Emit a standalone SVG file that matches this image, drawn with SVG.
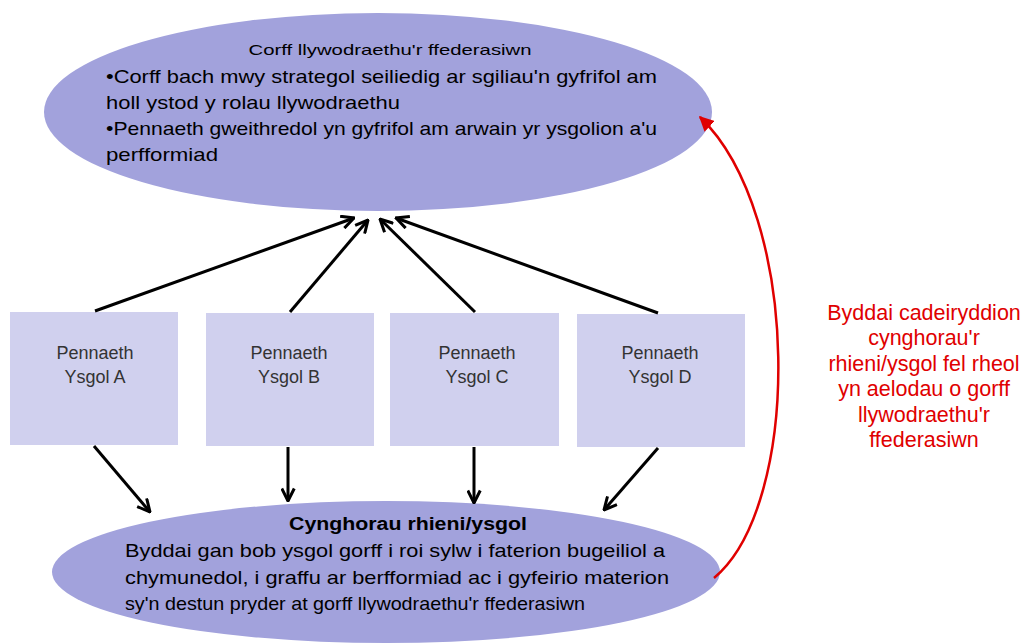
<svg xmlns="http://www.w3.org/2000/svg" width="1027" height="644" viewBox="0 0 1027 644">
<style>
.ell{fill:#a2a2dc;}
.box{fill:#d0d0ee;}
.bt{font-family:"Liberation Sans",Arial,sans-serif;font-size:18px;fill:#333;text-anchor:middle;}
.et{font-family:"Liberation Sans",Arial,sans-serif;font-size:19px;fill:#000;}
.red{font-family:"Liberation Sans",Arial,sans-serif;font-size:21.5px;fill:#e00000;text-anchor:middle;}
.arr{stroke:#000;stroke-width:3;fill:none;marker-end:url(#ah);}
</style>
<defs>
<marker id="ah" viewBox="0 0 12 12" refX="11" refY="6" markerWidth="5" markerHeight="5" orient="auto" markerUnits="strokeWidth">
<polyline points="1,1 11,6 1,11" fill="none" stroke="#000" stroke-width="2.4"/>
</marker>
<marker id="rh" viewBox="0 0 10 10" refX="9" refY="5" markerWidth="6" markerHeight="6" orient="auto" markerUnits="strokeWidth">
<path d="M0,0 L10,5 L0,10 z" fill="#e00000"/>
</marker>
</defs>
<rect width="1027" height="644" fill="#fff"/>
<g id="top-body">
<ellipse class="ell" cx="378" cy="112" rx="334" ry="99"/>
<text x="390" y="55" font-family="Liberation Sans,Arial,sans-serif" font-size="15" text-anchor="middle" textLength="283" lengthAdjust="spacingAndGlyphs">Corff llywodraethu'r ffederasiwn</text>
<text class="et" x="106" y="83" textLength="551" lengthAdjust="spacingAndGlyphs">•Corff bach mwy strategol seiliedig ar sgiliau'n gyfrifol am</text>
<text class="et" x="106" y="109" textLength="294" lengthAdjust="spacingAndGlyphs">holl ystod y rolau llywodraethu</text>
<text class="et" x="106" y="135" textLength="551" lengthAdjust="spacingAndGlyphs">•Pennaeth gweithredol yn gyfrifol am arwain yr ysgolion a'u</text>
<text class="et" x="106" y="161" textLength="112" lengthAdjust="spacingAndGlyphs">perfformiad</text>
</g>
<g id="bottom-body">
<ellipse class="ell" cx="386" cy="572" rx="334" ry="71"/>
<text x="408" y="530" font-family="Liberation Sans,Arial,sans-serif" font-size="18" font-weight="bold" text-anchor="middle" textLength="238" lengthAdjust="spacingAndGlyphs">Cynghorau rhieni/ysgol</text>
<text class="et" x="125" y="557" textLength="540" lengthAdjust="spacingAndGlyphs">Byddai gan bob ysgol gorff i roi sylw i faterion bugeiliol a</text>
<text class="et" x="125" y="584" textLength="544" lengthAdjust="spacingAndGlyphs">chymunedol, i graffu ar berfformiad ac i gyfeirio materion</text>
<text class="et" x="125" y="610" textLength="460" lengthAdjust="spacingAndGlyphs">sy'n destun pryder at gorff llywodraethu'r ffederasiwn</text>
</g>
<g id="head-a">
<rect class="box" x="10" y="312" width="168" height="133"/>
<text class="bt" x="95" y="359">Pennaeth</text>
<text class="bt" x="95" y="383">Ysgol A</text>
</g>
<g id="head-b">
<rect class="box" x="206" y="313" width="168" height="133"/>
<text class="bt" x="289" y="359">Pennaeth</text>
<text class="bt" x="289" y="383">Ysgol B</text>
</g>
<g id="head-c">
<rect class="box" x="390" y="313" width="169" height="133"/>
<text class="bt" x="477" y="359">Pennaeth</text>
<text class="bt" x="477" y="383">Ysgol C</text>
</g>
<g id="head-d">
<rect class="box" x="577" y="314" width="168" height="133"/>
<text class="bt" x="660" y="359">Pennaeth</text>
<text class="bt" x="660" y="383">Ysgol D</text>
</g>
<g id="note">
<text class="red" x="924" y="320">Byddai cadeiryddion</text>
<text class="red" x="924" y="345">cynghorau'r</text>
<text class="red" x="924" y="371">rhieni/ysgol fel rheol</text>
<text class="red" x="924" y="396">yn aelodau o gorff</text>
<text class="red" x="924" y="422">llywodraethu'r</text>
<text class="red" x="924" y="447">ffederasiwn</text>
</g>
<g id="connectors">
<line class="arr" x1="95" y1="311" x2="354" y2="218"/>
<line class="arr" x1="290" y1="312" x2="368" y2="220"/>
<line class="arr" x1="475" y1="312" x2="380" y2="219"/>
<line class="arr" x1="658" y1="313" x2="396" y2="218"/>
<line class="arr" x1="94" y1="446" x2="150" y2="512"/>
<line class="arr" x1="288" y1="447" x2="288" y2="501"/>
<line class="arr" x1="474" y1="447" x2="474" y2="503"/>
<line class="arr" x1="658" y1="448" x2="604" y2="510"/>
<path d="M714,578 C802,505 802,215 700,117" fill="none" stroke="#e00000" stroke-width="2.5" marker-end="url(#rh)"/>
</g>
</svg>
